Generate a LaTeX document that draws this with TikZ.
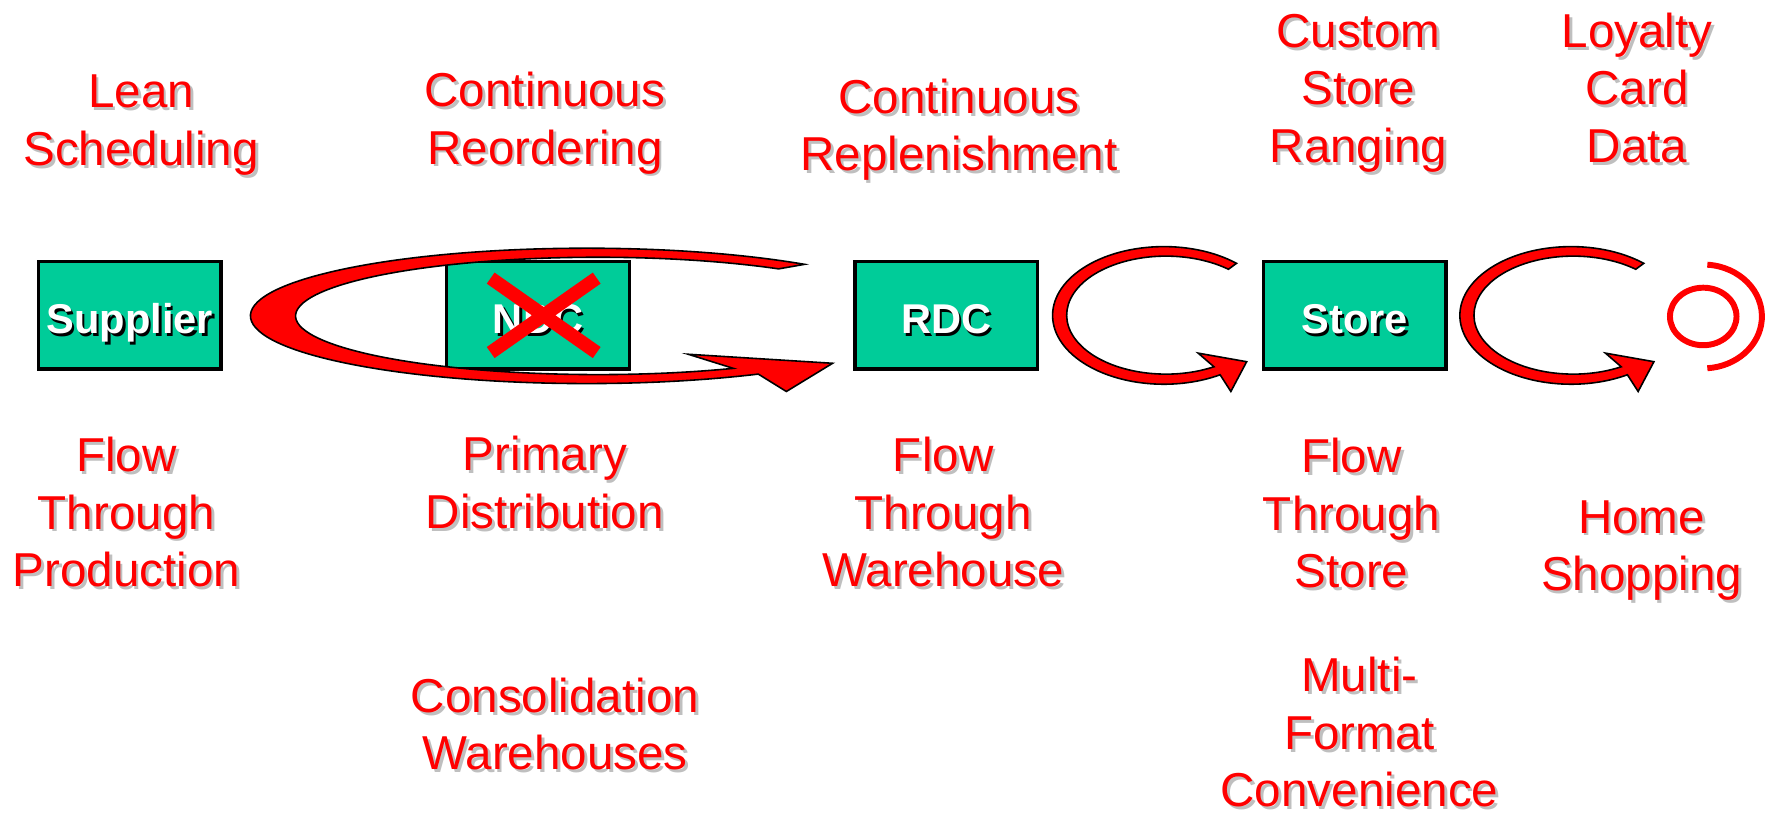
\documentclass[tikz,border=0pt]{standalone}
\usepackage{fontspec}
\setmainfont{Liberation Sans}
\usetikzlibrary{positioning}
\definecolor{boxgreen}{RGB}{0,204,153}
% text with a small drop shadow behind it
\newcommand{\shadowed}[2]{\rlap{\kern0.06em\raisebox{-0.06em}{\color{#1}\begin{tabular}[b]{@{}c@{}}#2\end{tabular}}}\begin{tabular}[b]{@{}c@{}}#2\end{tabular}}
\tikzset{
    stage/.style={draw=black, line width=1.7pt, fill=boxgreen, minimum width=3.24cm,
        minimum height=1.9cm, inner sep=0pt, text=white, text height=20pt, text depth=1.5pt,
        font=\fontsize{21}{25}\selectfont\bfseries},
    note/.style={text=red, align=center, inner sep=0pt,
        font=\fontsize{24}{29}\selectfont},
    loop arrow/.style={fill=red, draw=black, line width=0.8pt, line join=miter},
    target/.style={draw=red, line width=3pt}
}

\begin{document}
\begin{tikzpicture}[x=0.02cm, y=-0.02cm]
    \useasboundingbox (0,0) rectangle (1568,727);

    % the chain
    \node[stage] (supplier) at (115,279.5) {\shadowed{black}{Supplier}};
    \node[stage, right=3.94cm of supplier] (ndc) {\shadowed{black}{NDC}};
    \node[stage, right=3.94cm of ndc] (rdc) {\shadowed{black}{RDC}};
    \node[stage, right=3.94cm of rdc] (store) {\shadowed{black}{Store}};

    % NDC is crossed out
    \draw[red, line width=0.24cm] ([shift={(-42,-33)}]ndc.center) -- ([shift={(52,33)}]ndc.center)
        ([shift={(-42,33)}]ndc.center) -- ([shift={(52,-33)}]ndc.center);

    % big loop round NDC
    \filldraw[loop arrow] (713.1,234.3)
        arc[start angle=-49.6, end angle=-300.7, x radius=298, y radius=60]
        -- (697,347) -- (738,322) -- (610,314) -- (650,326.5)
        arc[start angle=-296.6, end angle=-53.3, x radius=268, y radius=52]
        -- cycle;

    % small loops after RDC and Store
    \foreach \dx in {0,361} {
        \begin{scope}[shift={(\dx,0)}]
            \filldraw[loop arrow] (1096,233.4)
                arc[start angle=-49.2, end angle=-300.4, x radius=98.6, y radius=61]
                -- (1091,347) -- (1105,320.6) -- (1062,313) -- (1076,325.1)
                arc[start angle=-298.9, end angle=-51, x radius=88, y radius=52.3]
                -- cycle;
        \end{scope}
    }

    % home shopping sign
    \coordinate (home) at (1509.7,280.5);
    \draw[target] (home) ellipse [x radius=29.5, y radius=25.5];
    \draw[target] (home) ++(-86:52 and 46) arc[start angle=-86, end angle=86, x radius=52, y radius=46];

    % labels above
    \node[note] (lean) at (125,112) {\shadowed{black!25}{Lean\\Scheduling}};
    \node[note] (reorder) at (483,111) {\shadowed{black!25}{Continuous\\Reordering}};
    \node[note] (replen) at (850,117) {\shadowed{black!25}{Continuous\\Replenishment}};
    \node[note] (ranging) at (1204,84) {\shadowed{black!25}{Custom\\Store\\Ranging}};
    \node[note] (loyalty) at (1451,84) {\shadowed{black!25}{Loyalty\\Card\\Data}};

    % labels below
    \node[note] (production) at (112,460) {\shadowed{black!25}{Flow\\Through\\Production}};
    \node[note] (primary) at (483,434) {\shadowed{black!25}{Primary\\Distribution}};
    \node[note] (warehouse) at (836,460) {\shadowed{black!25}{Flow\\Through\\Warehouse}};
    \node[note] (flowstore) at (1198,461) {\shadowed{black!25}{Flow\\Through\\Store}};
    \node[note] (shopping) at (1455,489) {\shadowed{black!25}{Home\\Shopping}};
    \node[note] (consol) at (492,648) {\shadowed{black!25}{Consolidation\\Warehouses}};
    \node[note, anchor=base, text depth=0pt] (multi) at (1205,715) {\shadowed{black!25}{Multi-\\Format\\Convenience}};
\end{tikzpicture}
\end{document}
